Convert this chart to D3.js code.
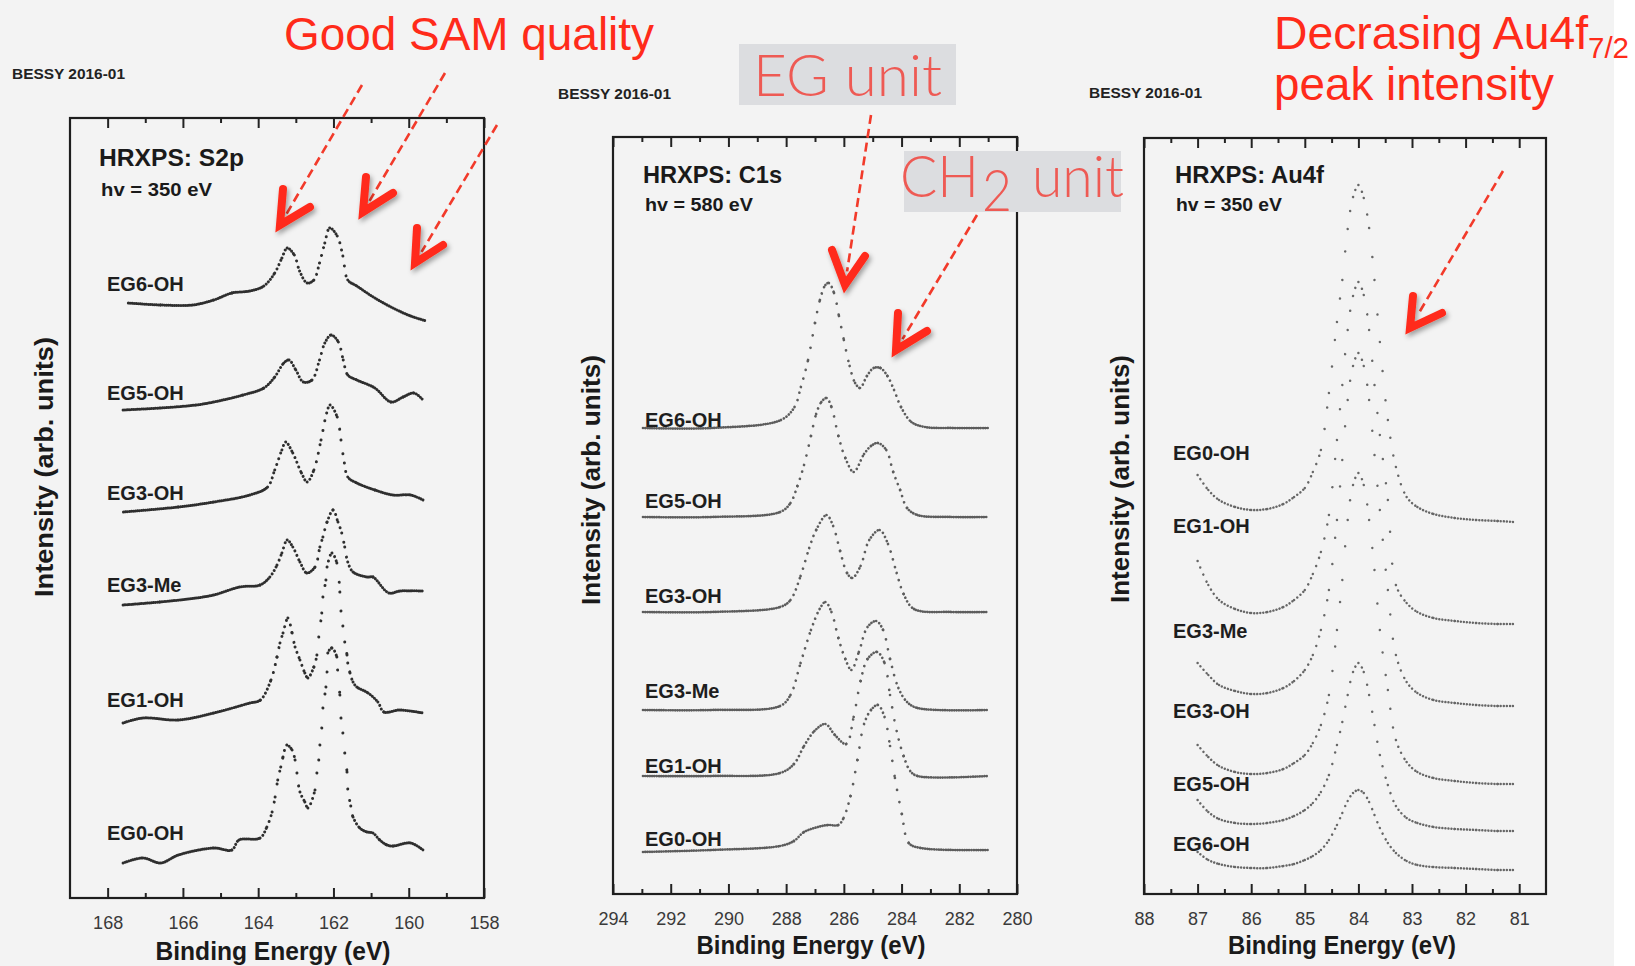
<!DOCTYPE html>
<html>
<head>
<meta charset="utf-8">
<script src="https://cdn.jsdelivr.net/npm/d3@7"></script>
<style>
  html, body { margin: 0; padding: 0; background: #f3f3f3; }
  svg { display: block; }
</style>
</head>
<body>
<div id="chart"></div>
<script>
// ---- data (binding energy in eV, intensity in arb. units) ----
var s2pLabels = ["EG6-OH", "EG5-OH", "EG3-OH", "EG3-Me", "EG1-OH", "EG0-OH"];
var s2pTicks = [168, 166, 164, 162, 160, 158];
var s2pMinor = [167, 165, 163, 161, 159];

var s2pEG6 = [[167.45,595],[166.59,593],[165.74,593],[165.18,598],[164.7,605],[164.22,607],[163.85,612],[163.56,625],[163.37,640],[163.23,650],[163.04,643],[162.9,627],[162.7,615],[162.52,618],[162.37,635],[162.23,655],[162.1,670],[161.9,662],[161.75,642],[161.62,618],[161.38,612],[160.9,600],[160.42,590],[159.95,582],[159.53,577]];
var s2pEG5 = [[167.59,488],[166.59,490],[165.65,493],[165.18,496],[164.4,503],[163.85,510],[163.56,521],[163.32,535],[163.18,538],[163.0,528],[162.8,516],[162.57,518],[162.37,538],[162.23,555],[162.06,563],[161.87,556],[161.74,538],[161.62,523],[161.38,518],[160.9,510],[160.47,496],[160.15,501],[159.86,505],[159.62,498]];
var s2pEG3OH = [[167.58,386],[166.12,391],[165.18,396],[164.22,403],[163.75,411],[163.56,428],[163.37,448],[163.27,456],[163.08,445],[162.85,425],[162.7,416],[162.52,428],[162.33,458],[162.18,485],[162.09,493],[161.9,481],[161.8,458],[161.71,435],[161.62,421],[161.38,415],[160.9,408],[160.42,403],[159.95,403],[159.62,398]];
var s2pEG3Me = [[167.59,293],[166.61,296],[165.65,300],[165.18,303],[164.49,311],[163.95,313],[163.69,321],[163.5,333],[163.37,345],[163.23,358],[163.08,351],[162.89,336],[162.71,325],[162.49,331],[162.36,351],[162.28,361],[162.17,376],[162.01,388],[161.88,376],[161.78,365],[161.7,351],[161.62,336],[161.48,326],[161.11,321],[160.95,321],[160.53,305],[160.23,307],[159.62,307]];
var s2pEG1 = [[167.59,175],[167.06,180],[166.12,178],[165.18,185],[164.22,195],[163.94,198],[163.66,218],[163.5,241],[163.42,255],[163.34,265],[163.21,280],[163.1,265],[163.02,251],[162.89,238],[162.76,225],[162.68,220],[162.52,231],[162.44,243],[162.39,261],[162.31,285],[162.28,301],[162.2,318],[162.17,331],[162.04,345],[161.91,335],[161.83,306],[161.8,287],[161.75,272],[161.7,256],[161.64,243],[161.62,235],[161.56,225],[161.48,216],[161.38,211],[161.08,205],[160.82,196],[160.66,186],[160.24,188],[159.62,185]];
var s2pEG0 = [[167.59,35],[167.06,40],[166.59,35],[166.12,43],[165.18,50],[164.7,48],[164.51,58],[163.95,60],[163.77,71],[163.63,86],[163.55,101],[163.48,118],[163.4,131],[163.34,141],[163.24,153],[163.1,148],[163.02,138],[162.97,125],[162.89,106],[162.76,96],[162.68,90],[162.49,108],[162.44,125],[162.39,138],[162.36,153],[162.31,170],[162.28,190],[162.2,211],[162.17,226],[162.15,245],[162.04,250],[161.91,241],[161.89,228],[161.83,203],[161.8,180],[161.75,165],[161.7,145],[161.64,126],[161.62,109],[161.54,92],[161.48,81],[161.3,70],[161.11,66],[160.95,65],[160.77,58],[160.58,53],[160.42,52],[159.95,55],[159.62,48]];

var c1sLabels = ["EG6-OH", "EG5-OH", "EG3-OH", "EG3-Me", "EG1-OH", "EG0-OH"];
var c1sTicks = [294, 292, 290, 288, 286, 284, 282, 280];
var c1sMinor = [293, 291, 289, 287, 285, 283, 281];

var c1sEG6 = [[292.96,466],[290.57,466],[288.18,474],[287.71,487],[287.49,507],[287.24,534],[287.0,571],[286.83,594],[286.64,609],[286.52,611],[286.34,601],[286.17,578],[286.0,554],[285.8,528],[285.61,511],[285.44,506],[285.2,518],[284.97,526],[284.73,526],[284.49,518],[284.26,504],[284.02,487],[283.66,472],[283.19,467],[282.22,466],[280.97,466]];
var c1sEG5 = [[292.96,377],[290.59,377],[288.21,382],[287.85,391],[287.61,408],[287.38,429],[287.14,458],[286.96,480],[286.78,492],[286.6,496],[286.43,487],[286.19,458],[285.95,436],[285.66,422],[285.3,440],[285.06,448],[284.82,451],[284.53,444],[284.29,422],[284.05,404],[283.81,386],[283.45,379],[282.27,377],[281.02,377]];
var c1sEG3OH = [[292.96,282],[290.59,282],[288.21,287],[287.85,294],[287.5,318],[287.2,346],[286.96,364],[286.6,379],[286.37,368],[286.13,343],[285.89,321],[285.71,316],[285.42,328],[285.12,354],[284.76,364],[284.47,350],[284.17,321],[283.93,300],[283.57,285],[282.27,282],[281.02,282]];
var c1sEG3Me = [[292.96,184],[290.59,184],[288.21,188],[287.85,199],[287.5,231],[287.14,264],[286.84,285],[286.64,292],[286.43,282],[286.19,256],[285.95,235],[285.74,224],[285.48,242],[285.18,267],[284.88,273],[284.64,264],[284.4,235],[284.11,206],[283.81,192],[283.45,186],[281.02,184]];
var c1sEG1 = [[292.96,118],[290.59,118],[288.21,121],[287.73,130],[287.38,148],[287.02,163],[286.64,170],[286.31,159],[285.92,150],[285.66,177],[285.42,213],[285.18,235],[284.85,242],[284.59,231],[284.4,199],[284.17,163],[283.93,138],[283.7,123],[283.45,118],[281.02,118]];
var c1sEG0 = [[292.96,42],[290.59,44],[288.21,48],[287.73,53],[287.38,62],[286.9,67],[286.55,69],[286.19,69],[286.01,76],[285.77,98],[285.53,134],[285.3,170],[285.06,184],[284.82,189],[284.59,177],[284.4,148],[284.23,116],[283.99,80],[283.75,51],[283.34,46],[281.02,44]];

var au4fLabels = ["EG0-OH", "EG1-OH", "EG3-Me", "EG3-OH", "EG5-OH", "EG6-OH"];
var au4fTicks = [88, 87, 86, 85, 84, 83, 82, 81];
var au4fMinor = [87.5, 86.5, 85.5, 84.5, 83.5, 82.5, 81.5];
var au4fEnergy = [87.0, 86.8, 86.6, 86.3, 86.0, 85.7, 85.4, 85.2, 85.0, 84.85, 84.7, 84.55, 84.4, 84.3, 84.2, 84.1, 84.0, 83.9, 83.8, 83.7, 83.6, 83.45, 83.3, 83.1, 82.9, 82.6, 82.2, 81.8, 81.4, 81.1];
var au4fEG0 = [419,404,394,387,384,385,390,397,406,422,444,501,572,614,665,697,709,696,666,614,552,474,427,397,387,380,376,374,373,372];
var au4fEG1 = [333,309,294,285,281,282,287,294,304,320,342,379,454,509,564,598,612,599,564,509,459,394,309,291,282,276,273,271,270,270];
var au4fEG3Me = [231,219,209,203,200,201,206,213,224,239,264,304,374,434,494,528,541,528,494,439,384,304,239,212,201,194,191,189,188,188];
var au4fEG3OH = [149,137,128,122,120,121,125,131,139,151,169,199,264,314,374,409,421,409,374,324,264,204,154,132,122,116,113,111,110,110];
var au4fEG5 = [94,82,75,71,70,71,74,78,84,91,102,119,149,172,199,222,231,222,199,169,139,109,88,76,71,67,65,64,63,63];
var au4fEG6 = [42,34,30,27,26,26,28,30,34,38,44,54,69,81,93,101,104,101,92,79,66,51,41,33,29,27,26,25,24,24];

// ---- drawing ----
var W = 1635, H = 966;
var FONT = "'Liberation Sans', Arial, Helvetica, sans-serif";

var svg = d3.select("#chart").append("svg")
    .attr("width", W)
    .attr("height", H);

svg.append("rect").attr("width", W).attr("height", H).attr("fill", "#f3f3f3");
svg.append("rect").attr("x", 1614).attr("width", W - 1614).attr("height", H).attr("fill", "#ffffff");

var shadow = svg.append("defs").append("filter")
    .attr("id", "shadow")
    .attr("x", "-50%").attr("y", "-50%")
    .attr("width", "200%").attr("height", "200%");
shadow.append("feDropShadow")
    .attr("dx", 2).attr("dy", 3)
    .attr("stdDeviation", 2.5)
    .attr("flood-color", "#000")
    .attr("flood-opacity", 0.35);

var panels = [
    {
        left: 70, right: 484, top: 118, bottom: 898, xDomain: [169, 158],
        ticks: s2pTicks, minor: s2pMinor, labels: s2pLabels,
        series: [s2pEG6, s2pEG5, s2pEG3OH, s2pEG3Me, s2pEG1, s2pEG0],
        labelX: 107, labelY: [291, 400, 500, 592, 707, 840],
        title: "HRXPS: S2p", titleX: 99, titleY: 166, titleW: 145,
        hv: "hv = 350 eV", hvX: 101, hvY: 196, hvW: 111,
        bessyX: 12, bessyY: 79,
        xLabelX: 273, xLabelY: 960, xLabelW: 235,
        yLabelX: 53, yLabelY: 467, yLabelW: 260,
        stroke: "#2e2e2e", step: 2.0, sw: 3
    },
    {
        left: 613, right: 1017, top: 137, bottom: 894, xDomain: [294, 280],
        ticks: c1sTicks, minor: c1sMinor, labels: c1sLabels,
        series: [c1sEG6, c1sEG5, c1sEG3OH, c1sEG3Me, c1sEG1, c1sEG0],
        labelX: 645, labelY: [427, 508, 603, 698, 773, 846],
        title: "HRXPS: C1s", titleX: 643, titleY: 183, titleW: 139,
        hv: "hv = 580 eV", hvX: 645, hvY: 211, hvW: 108,
        bessyX: 558, bessyY: 99,
        xLabelX: 811, xLabelY: 954, xLabelW: 229,
        yLabelX: 600, yLabelY: 480, yLabelW: 250,
        stroke: "#5c5c5c", step: 2.3, sw: 2.7
    },
    {
        left: 1144, right: 1546, top: 138, bottom: 894, xDomain: [88, 80.5],
        ticks: au4fTicks, minor: au4fMinor, labels: au4fLabels,
        series: [au4fEG0, au4fEG1, au4fEG3Me, au4fEG3OH, au4fEG5, au4fEG6].map(function(vals) {
            return vals.map(function(v, i) { return [au4fEnergy[i], v]; });
        }),
        labelX: 1173, labelY: [460, 533, 638, 718, 791, 851],
        title: "HRXPS: Au4f", titleX: 1175, titleY: 183, titleW: 149,
        hv: "hv = 350 eV", hvX: 1176, hvY: 211, hvW: 106,
        bessyX: 1089, bessyY: 98,
        xLabelX: 1342, xLabelY: 954, xLabelW: 228,
        yLabelX: 1129, yLabelY: 479, yLabelW: 248,
        stroke: "#666666", step: 3.0, sw: 2.5
    }
];

panels.forEach(drawPanel);

function drawPanel(p) {
    var g = svg.append("g");

    var x = d3.scaleLinear().domain(p.xDomain).range([p.left, p.right]);
    var y = d3.scaleLinear().domain([0, p.bottom - p.top]).range([p.bottom, p.top]);

    // inward ticks, bottom and top
    function styleAxis(a) {
        a.select(".domain").remove();
        a.attr("color", "#222").selectAll("line").attr("stroke-width", 2);
    }
    g.append("g")
        .attr("transform", "translate(0," + p.bottom + ")")
        .call(d3.axisBottom(x).tickValues(p.minor).tickSize(-5).tickFormat(""))
        .call(styleAxis);
    g.append("g")
        .attr("transform", "translate(0," + p.bottom + ")")
        .call(d3.axisBottom(x).tickValues(p.ticks).tickSize(-10).tickPadding(18).tickFormat(d3.format("d")))
        .call(styleAxis)
        .call(function(a) {
            a.selectAll("text")
                .attr("font-family", FONT)
                .attr("font-size", 18)
                .attr("fill", "#3a3a3a");
        });
    g.append("g")
        .attr("transform", "translate(0," + p.top + ")")
        .call(d3.axisTop(x).tickValues(p.minor).tickSize(-5).tickFormat(""))
        .call(styleAxis);
    g.append("g")
        .attr("transform", "translate(0," + p.top + ")")
        .call(d3.axisTop(x).tickValues(p.ticks).tickSize(-10).tickFormat(""))
        .call(styleAxis);

    g.append("rect")
        .attr("x", p.left).attr("y", p.top)
        .attr("width", p.right - p.left).attr("height", p.bottom - p.top)
        .attr("fill", "none")
        .attr("stroke", "#1e1e1e")
        .attr("stroke-width", 2.2);

    var line = d3.line()
        .curve(d3.curveCatmullRom)
        .x(function(d) { return x(d[0]); })
        .y(function(d) { return y(d[1]); });

    // cut the smooth curve into its bezier pieces so each piece gets its own
    // dot spacing: dots stay evenly spaced in energy like the scan points,
    // dense on flat parts and sparse on steep flanks
    function pieces(d) {
        var parts = line(d).slice(1).split("C");
        var start = parts[0].split(",").map(Number);
        var out = [];
        for (var i = 1; i < parts.length; i++) {
            var c = parts[i].split(",").map(Number);
            out.push({x0: start[0], y0: start[1], c: c});
            start = [c[4], c[5]];
        }
        return out;
    }

    g.append("g").selectAll("g")
        .data(p.series)
        .enter()
        .append("g")
        .selectAll("path")
        .data(pieces)
        .enter()
        .append("path")
            .attr("d", function(s) { return "M" + s.x0 + "," + s.y0 + "C" + s.c.join(","); })
            .attr("fill", "none")
            .attr("stroke", p.stroke)
            .attr("stroke-width", p.sw)
            .attr("stroke-linecap", "round")
            .attr("stroke-dasharray", function(s) {
                var dx = Math.abs(s.c[4] - s.x0);
                var dy = Math.abs(s.c[5] - s.y0);
                var len = Math.sqrt(dx * dx + dy * dy);
                var gap = dx > 0 ? p.step * len / dx : len;
                return "0.01 " + gap.toFixed(2);
            });

    g.append("g").selectAll("text")
        .data(p.labels)
        .enter()
        .append("text")
            .attr("x", p.labelX)
            .attr("y", function(d, i) { return p.labelY[i]; })
            .attr("font-family", FONT)
            .attr("font-weight", "bold")
            .attr("font-size", 20)
            .attr("fill", "#1e1e1e")
            .text(function(d) { return d; });

    g.append("text")
        .attr("x", p.titleX).attr("y", p.titleY)
        .attr("font-family", FONT).attr("font-weight", "bold").attr("font-size", 24)
        .attr("textLength", p.titleW).attr("lengthAdjust", "spacingAndGlyphs")
        .attr("fill", "#1a1a1a")
        .text(p.title);

    g.append("text")
        .attr("x", p.hvX).attr("y", p.hvY)
        .attr("font-family", FONT).attr("font-weight", "bold").attr("font-size", 18)
        .attr("textLength", p.hvW).attr("lengthAdjust", "spacingAndGlyphs")
        .attr("fill", "#1a1a1a")
        .text(p.hv);

    g.append("text")
        .attr("x", p.bessyX).attr("y", p.bessyY)
        .attr("font-family", FONT).attr("font-weight", "bold").attr("font-size", 15.5)
        .attr("textLength", 113).attr("lengthAdjust", "spacingAndGlyphs")
        .attr("fill", "#222")
        .text("BESSY 2016-01");

    g.append("text")
        .attr("x", p.xLabelX).attr("y", p.xLabelY)
        .attr("text-anchor", "middle")
        .attr("font-family", FONT).attr("font-weight", "bold").attr("font-size", 25)
        .attr("textLength", p.xLabelW).attr("lengthAdjust", "spacingAndGlyphs")
        .attr("fill", "#1a1a1a")
        .text("Binding Energy (eV)");

    g.append("text")
        .attr("transform", "translate(" + p.yLabelX + "," + p.yLabelY + ") rotate(-90)")
        .attr("text-anchor", "middle")
        .attr("font-family", FONT).attr("font-weight", "bold").attr("font-size", 26)
        .attr("textLength", p.yLabelW).attr("lengthAdjust", "spacingAndGlyphs")
        .attr("fill", "#1a1a1a")
        .text("Intensity (arb. units)");
}

// ---- annotations ----
var RED = "#ff2b1a";
var note = svg.append("g");

function redText(t, xx, yy, size, w, color, family, weight) {
    note.append("text")
        .attr("x", xx).attr("y", yy)
        .attr("font-family", family || FONT)
        .attr("font-weight", weight || "normal")
        .attr("font-size", size)
        .attr("textLength", w).attr("lengthAdjust", "spacingAndGlyphs")
        .attr("fill", color || RED)
        .text(t);
}

redText("Good SAM quality", 284, 50, 46, 370);
redText("Decrasing Au4f", 1274, 49, 46, 314);
redText("7/2", 1588, 58, 30, 41);
redText("peak intensity", 1274, 100, 46, 280);

var LIGHT = "Lato, 'Open Sans', 'Liberation Sans', sans-serif";
note.append("rect").attr("x", 739).attr("y", 44).attr("width", 217).attr("height", 61).attr("fill", "#dcdde0");
note.append("rect").attr("x", 904).attr("y", 151).attr("width", 217).attr("height", 61).attr("fill", "#dcdde0");
redText("EG unit", 753, 96, 58, 189, "#ee5a54", LIGHT, 300);
redText("CH", 900, 197, 58, 79, "#ee5a54", LIGHT, 300);
redText("2", 982, 211, 58, 30, "#ee5a54", LIGHT, 300);
redText("unit", 1032, 197, 58, 92, "#ee5a54", LIGHT, 300);

var arrows = [
    {from: [362, 85],   tip: [280, 225], a: [283, 189], b: [310, 207]},
    {from: [445, 73],   tip: [363, 212], a: [366, 177], b: [393, 193]},
    {from: [497, 125],  tip: [415, 263], a: [417, 228], b: [443, 245]},
    {from: [871, 115],  tip: [845, 285], a: [832, 250], b: [865, 256]},
    {from: [977, 215],  tip: [896, 350], a: [898, 313], b: [927, 331]},
    {from: [1503, 171], tip: [1410, 328], a: [1413, 296], b: [1442, 313]}
];

arrows.forEach(function(d) {
    note.append("line")
        .attr("x1", d.from[0]).attr("y1", d.from[1])
        .attr("x2", d.tip[0] + (d.from[0] - d.tip[0]) * 0.08)
        .attr("y2", d.tip[1] + (d.from[1] - d.tip[1]) * 0.08)
        .attr("stroke", "#f23a2a")
        .attr("stroke-width", 2.6)
        .attr("stroke-dasharray", "9 5");
    note.append("path")
        .attr("d", "M" + d.a + "L" + d.tip + "L" + d.b)
        .attr("fill", "none")
        .attr("stroke", RED)
        .attr("stroke-width", 8)
        .attr("stroke-linecap", "round")
        .attr("stroke-linejoin", "miter")
        .attr("filter", "url(#shadow)");
});
</script>
</body>
</html>
